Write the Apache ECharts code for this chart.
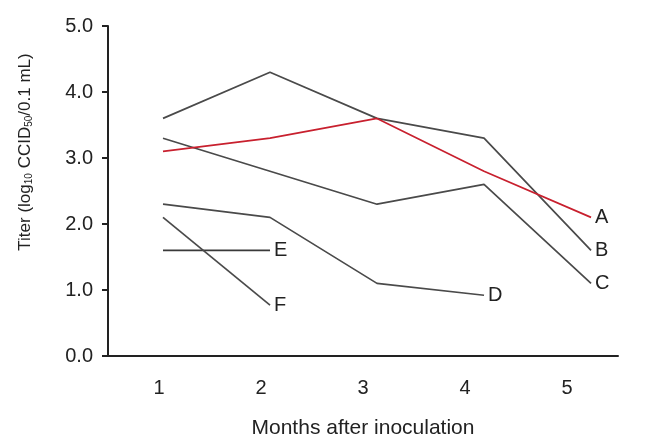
<!DOCTYPE html>
<html>
<head>
<meta charset="utf-8">
<script src="https://cdn.jsdelivr.net/npm/echarts@6/dist/echarts.min.js"></script>
<style>
  html, body { margin: 0; padding: 0; background: #fff; }
</style>
</head>
<body>
<!-- CHART: virus titer by month after inoculation -->
<div id="titer" style="width:650px; height:438px"></div>
<script>
var months = ['1', '2', '3', '4', '5'];

// titer values (log10 CCID50/0.1 mL), null = no sample
var lineA = [3.1, 3.3, 3.6, 2.8, 2.1];
var lineB = [3.6, 4.3, 3.6, 3.3, 1.6];
var lineC = [3.3, 2.8, 2.3, 2.6, 1.1];
var lineD = [2.3, 2.1, 1.1, 0.92];
var lineE = [1.6, 1.6];
var lineF = [2.1, 0.77];

var chartDom = document.getElementById('titer');
var myChart = echarts.init(chartDom);
var option;

function toPoints(vals) {
  return vals.map(function (v, i) { return [i + 1, v]; });
}

function makeLine(name, vals, color) {
  return {
    name: name,
    type: 'line',
    xAxisIndex: 1,
    data: toPoints(vals),
    symbol: 'none',
    silent: true,
    lineStyle: { color: color, width: 1.7 },
    endLabel: {
      show: true,
      formatter: name,
      distance: 4,
      color: '#222',
      fontSize: 20,
      fontFamily: 'Liberation Sans'
    }
  };
}

option = {
  animation: false,
  textStyle: { fontFamily: 'Liberation Sans' },
  grid: {
    left: 108,
    right: 32,
    top: 26,
    bottom: 82,
    outerBoundsMode: 'none'
  },
  xAxis: [
    {
      type: 'category',
      data: months,
      boundaryGap: true,
      name: 'Months after inoculation',
      nameLocation: 'middle',
      nameGap: 62,
      nameTextStyle: { fontSize: 21, color: '#222' },
      axisLine: { lineStyle: { color: '#222', width: 2 } },
      axisTick: { alignWithLabel: false, length: 7, lineStyle: { color: '#222', width: 2 } },
      axisLabel: { fontSize: 20, color: '#222', margin: 22 },
      splitLine: { show: false }
    },
    {
      // months as numbers, places the lines
      type: 'value',
      show: false,
      min: 0.486,
      max: 5.252
    }
  ],
  yAxis: {
    type: 'value',
    min: 0,
    max: 5,
    interval: 1,
    name: 'Titer (log{sub|10} CCID{sub|50}/0.1 mL)',
    nameLocation: 'middle',
    nameGap: 74,
    nameTextStyle: {
      fontSize: 17,
      color: '#222',
      padding: [0, 0, 0, 78],
      rich: {
        sub: { fontSize: 10, color: '#222', verticalAlign: 'bottom', padding: [8, 0, 0, 0] }
      }
    },
    axisLine: { show: true, lineStyle: { color: '#222', width: 2 } },
    axisTick: { show: true, length: 6, lineStyle: { color: '#222', width: 2 } },
    axisLabel: {
      fontSize: 20,
      color: '#222',
      margin: 15,
      formatter: function (v) { return v.toFixed(1); }
    },
    splitLine: { show: false }
  },
  series: [
    makeLine('B', lineB, '#4a4a4a'),
    makeLine('C', lineC, '#4a4a4a'),
    makeLine('D', lineD, '#4a4a4a'),
    makeLine('E', lineE, '#3a3a3a'),
    makeLine('F', lineF, '#4a4a4a'),
    makeLine('A', lineA, '#c8202e')
  ]
};

option && myChart.setOption(option);
</script>
</body>
</html>
